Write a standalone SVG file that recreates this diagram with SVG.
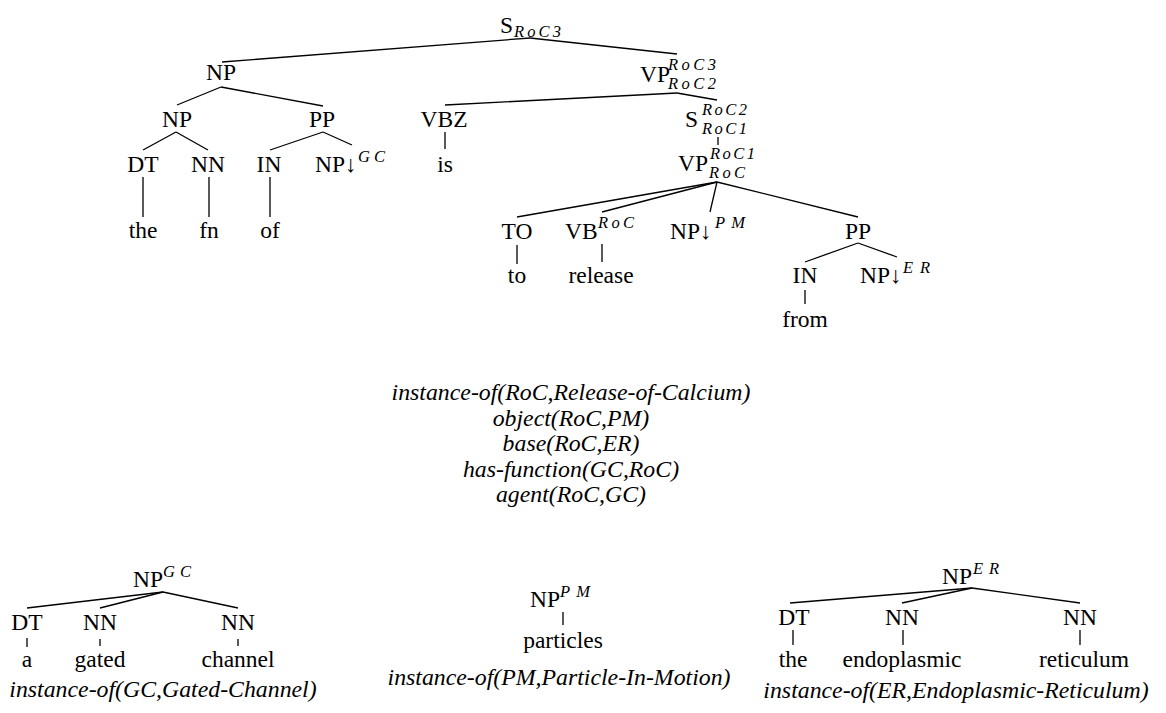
<svg xmlns="http://www.w3.org/2000/svg" width="1166" height="713" viewBox="0 0 1166 713">
<style>
text{font-family:"Liberation Serif","Times New Roman",serif;font-size:23.5px;fill:#000}
.c{text-anchor:middle}
.s{font-style:italic;font-size:16.5px}
.i{font-style:italic;text-anchor:middle;font-size:23.8px}
#connectors line{stroke:#000;stroke-width:1.3}
</style>
<rect width="1166" height="713" fill="#fff"/>
<g id="connectors">
<line x1="530" y1="38" x2="222" y2="62"/>
<line x1="530" y1="38" x2="677" y2="54"/>
<line x1="221" y1="87" x2="177" y2="105"/>
<line x1="221" y1="87" x2="323" y2="106"/>
<line x1="677" y1="93" x2="445" y2="105"/>
<line x1="677" y1="93" x2="717" y2="100"/>
<line x1="176" y1="132" x2="143" y2="150"/>
<line x1="176" y1="132" x2="208" y2="150"/>
<line x1="323" y1="132" x2="270" y2="150"/>
<line x1="323" y1="132" x2="352" y2="145"/>
<line x1="445" y1="132" x2="445" y2="149"/>
<line x1="718" y1="137" x2="718" y2="145"/>
<line x1="143" y1="177" x2="143" y2="217"/>
<line x1="209" y1="177" x2="209" y2="217"/>
<line x1="270" y1="177" x2="270" y2="217"/>
<line x1="717" y1="182" x2="517" y2="217"/>
<line x1="717" y1="182" x2="602" y2="212"/>
<line x1="717" y1="182" x2="710" y2="212"/>
<line x1="717" y1="182" x2="858" y2="217"/>
<line x1="517" y1="245" x2="517" y2="264"/>
<line x1="602" y1="244" x2="602" y2="262"/>
<line x1="858" y1="243" x2="805" y2="262"/>
<line x1="858" y1="243" x2="897" y2="257"/>
<line x1="805" y1="290" x2="805" y2="304"/>
<line x1="163" y1="592" x2="27" y2="608"/>
<line x1="163" y1="592" x2="100" y2="608"/>
<line x1="163" y1="592" x2="238" y2="608"/>
<line x1="27" y1="638" x2="27" y2="647"/>
<line x1="100" y1="639" x2="100" y2="646"/>
<line x1="238" y1="639" x2="238" y2="646"/>
<line x1="563" y1="612" x2="563" y2="625"/>
<line x1="972" y1="588" x2="790" y2="603"/>
<line x1="972" y1="588" x2="902" y2="603"/>
<line x1="972" y1="588" x2="1080" y2="603"/>
<line x1="793" y1="630" x2="793" y2="645"/>
<line x1="903" y1="630" x2="903" y2="645"/>
<line x1="1080" y1="630" x2="1080" y2="645"/>
</g>
<g id="n-S"><text x="500" y="33">S</text><text class="s" x="514" y="37" textLength="47" lengthAdjust="spacing">RoC3</text></g>
<g id="n-NP1"><text class="c" x="221" y="80">NP</text></g>
<g id="n-VP1"><text x="640" y="82">VP</text><text class="s" x="668" y="70" textLength="48" lengthAdjust="spacing">RoC3</text><text class="s" x="668" y="89" textLength="48" lengthAdjust="spacing">RoC2</text></g>
<g id="n-NP2"><text class="c" x="177" y="127">NP</text></g>
<g id="n-PP1"><text class="c" x="322" y="127">PP</text></g>
<g id="n-VBZ"><text class="c" x="444" y="127">VBZ</text></g>
<g id="n-S2"><text x="685" y="127">S</text><text class="s" x="702" y="115" textLength="45" lengthAdjust="spacing">RoC2</text><text class="s" x="702" y="134" textLength="45" lengthAdjust="spacing">RoC1</text></g>
<g id="n-DT1"><text class="c" x="143" y="172">DT</text></g>
<g id="n-NN1"><text class="c" x="208" y="172">NN</text></g>
<g id="n-IN1"><text class="c" x="269" y="172">IN</text></g>
<g id="n-NPGC"><text x="315" y="172">NP↓</text><text class="s" x="358" y="162" textLength="27" lengthAdjust="spacing">GC</text></g>
<g id="n-is"><text class="c" x="445" y="172">is</text></g>
<g id="n-VP2"><text x="678" y="171">VP</text><text class="s" x="710" y="159" textLength="45" lengthAdjust="spacing">RoC1</text><text class="s" x="709" y="178" textLength="36" lengthAdjust="spacing">RoC</text></g>
<g id="n-the1"><text class="c" x="143" y="238">the</text></g>
<g id="n-fn"><text class="c" x="209" y="238">fn</text></g>
<g id="n-of"><text class="c" x="270" y="238">of</text></g>
<g id="n-TO"><text class="c" x="517" y="239">TO</text></g>
<g id="n-VB"><text x="565" y="239">VB</text><text class="s" x="598" y="228" textLength="36" lengthAdjust="spacing">RoC</text></g>
<g id="n-NPPM"><text x="670" y="239">NP↓</text><text class="s" x="715" y="228" textLength="30" lengthAdjust="spacing">PM</text></g>
<g id="n-PP2"><text class="c" x="858" y="239">PP</text></g>
<g id="n-to"><text class="c" x="517" y="283">to</text></g>
<g id="n-release"><text class="c" x="601" y="283">release</text></g>
<g id="n-IN2"><text class="c" x="805" y="283">IN</text></g>
<g id="n-NPER"><text x="860" y="283">NP↓</text><text class="s" x="903" y="273" textLength="27" lengthAdjust="spacing">ER</text></g>
<g id="n-from"><text class="c" x="805" y="327">from</text></g>
<g id="semantics">
<text class="i" x="571" y="400">instance-of(RoC,Release-of-Calcium)</text>
<text class="i" x="571" y="425.5">object(RoC,PM)</text>
<text class="i" x="571" y="451">base(RoC,ER)</text>
<text class="i" x="571" y="476.5">has-function(GC,RoC)</text>
<text class="i" x="571" y="502">agent(RoC,GC)</text>
</g>
<g id="t-GC">
<text x="133" y="587">NP</text><text class="s" x="163" y="577" textLength="28" lengthAdjust="spacing">GC</text>
<text class="c" x="27" y="630">DT</text><text class="c" x="100" y="630">NN</text><text class="c" x="238" y="630">NN</text>
<text class="c" x="27" y="667">a</text><text class="c" x="100" y="667">gated</text><text class="c" x="238" y="667">channel</text>
<text class="i" x="163" y="697">instance-of(GC,Gated-Channel)</text>
</g>
<g id="t-PM">
<text x="530" y="607">NP</text><text class="s" x="560" y="597" textLength="30" lengthAdjust="spacing">PM</text>
<text class="c" x="563" y="648">particles</text>
<text class="i" x="559" y="685">instance-of(PM,Particle-In-Motion)</text>
</g>
<g id="t-ER">
<text x="942" y="584">NP</text><text class="s" x="973" y="574" textLength="26" lengthAdjust="spacing">ER</text>
<text class="c" x="794" y="625">DT</text><text class="c" x="902" y="625">NN</text><text class="c" x="1080" y="625">NN</text>
<text class="c" x="793" y="667">the</text><text class="c" x="902" y="667">endoplasmic</text><text class="c" x="1084" y="667">reticulum</text>
<text class="i" x="956" y="698">instance-of(ER,Endoplasmic-Reticulum)</text>
</g>
</svg>
